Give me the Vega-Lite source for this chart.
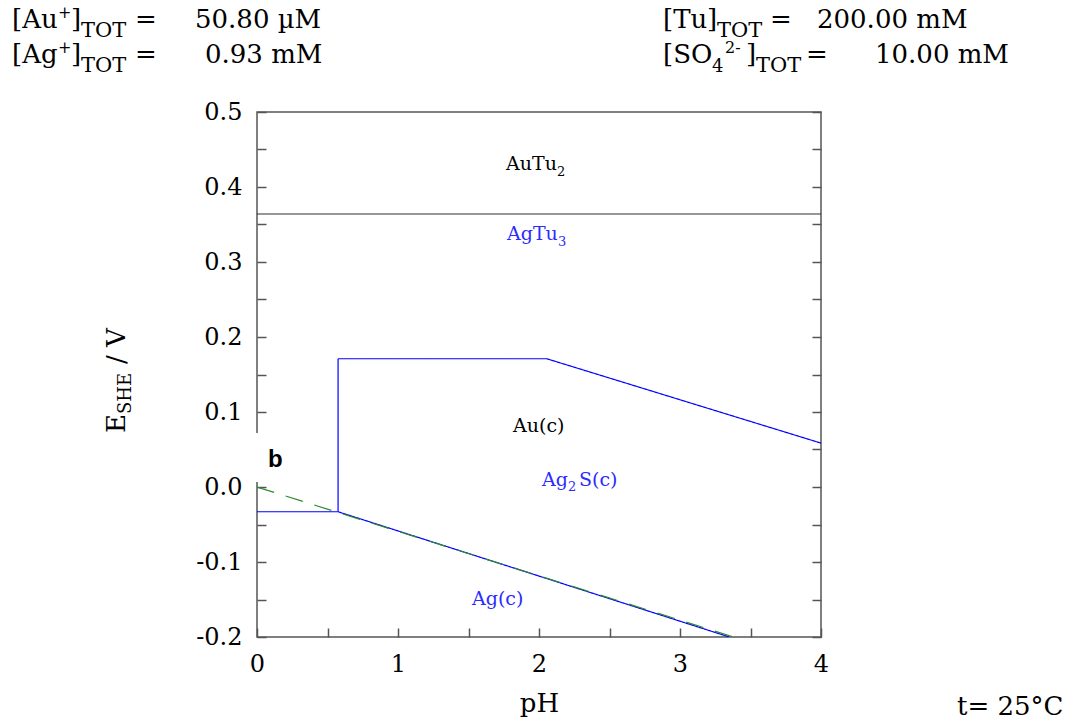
{
  "$schema": "https://vega.github.io/schema/vega-lite/v6.json",
  "width": 564,
  "height": 525,
  "autosize": {"type": "none"},
  "padding": {"left": 257, "top": 112, "right": 246, "bottom": 85},
  "background": "white",
  "config": {
    "view": {"stroke": "#555", "strokeWidth": 1.5},
    "text": {"font": "DejaVu Serif", "align": "left", "baseline": "alphabetic"},
    "axis": {
      "domain": false, "grid": false,
      "tickSize": -9, "tickColor": "#555", "tickWidth": 1.5,
      "labelFont": "DejaVu Serif", "labelFontSize": 24, "labelColor": "black",
      "labelOverlap": false, "labelFlush": false, "labelBound": false,
      "titleFont": "DejaVu Serif", "titleFontSize": 26, "titleFontWeight": "normal", "titleColor": "black"
    }
  },
  "datasets": {
    "lines": [
      {"s": "A", "o": 1, "pH": 0, "E": 0.364},
      {"s": "A", "o": 2, "pH": 4, "E": 0.364},
      {"s": "B", "o": 1, "pH": 0.575, "E": -0.033},
      {"s": "B", "o": 2, "pH": 0.575, "E": 0.171},
      {"s": "B", "o": 3, "pH": 2.055, "E": 0.171},
      {"s": "B", "o": 4, "pH": 4, "E": 0.0585},
      {"s": "C", "o": 1, "pH": 0, "E": -0.033},
      {"s": "C", "o": 2, "pH": 0.575, "E": -0.033},
      {"s": "C", "o": 3, "pH": 3.35, "E": -0.2},
      {"s": "D", "o": 1, "pH": 0, "E": 0},
      {"s": "D", "o": 2, "pH": 3.38, "E": -0.2}
    ]
  },
  "layer": [
    {
      "data": {"name": "lines"},
      "mark": {"type": "line", "strokeWidth": 1.2, "clip": true},
      "encoding": {
        "x": {"field": "pH", "type": "quantitative", "scale": {"domain": [0, 4], "nice": false, "zero": false},
              "axis": {"orient": "bottom", "values": [0, 0.5, 1, 1.5, 2, 2.5, 3, 3.5, 4], "labelExpr": "datum.value % 1 == 0 ? format(datum.value, 'd') : ''", "labelPadding": 24, "title": "pH", "titlePadding": 14}},
        "y": {"field": "E", "type": "quantitative", "scale": {"domain": [-0.2, 0.5], "nice": false, "zero": false},
              "axis": {"orient": "left", "values": [-0.2, -0.15, -0.1, -0.05, 0, 0.05, 0.1, 0.15, 0.2, 0.25, 0.3, 0.35, 0.4, 0.45, 0.5],
                       "labelExpr": "abs(datum.value*10 - round(datum.value*10)) < 0.001 ? (datum.value < -0.001 ? '-' : '') + format(abs(datum.value), '.1f') : ''",
                       "labelPadding": 24, "title": null}},
        "color": {"field": "s", "type": "nominal", "legend": null,
                  "scale": {"domain": ["A", "B", "C", "D"], "range": ["#303030", "#0000ff", "#0000ff", "#2e8b2e"]}},
        "strokeDash": {"field": "s", "type": "nominal", "legend": null,
                  "scale": {"domain": ["A", "B", "C", "D"], "range": [[1, 0], [1, 0], [1, 0], [18, 12]]}},
        "order": {"field": "o", "type": "quantitative"}
      }
    },
    {
      "data": {"values": [{"x1": -0.075, "x2": 0.27, "y1": 0.0067, "y2": 0.072}]},
      "mark": {"type": "rect", "fill": "white"},
      "encoding": {
        "x": {"field": "x1", "type": "quantitative", "scale": {"domain": [0, 4], "nice": false, "zero": false}, "axis": null},
        "x2": {"field": "x2"},
        "y": {"field": "y1", "type": "quantitative", "scale": {"domain": [-0.2, 0.5], "nice": false, "zero": false},
              "axis": {"orient": "right", "values": [-0.2, -0.15, -0.1, -0.05, 0, 0.05, 0.1, 0.15, 0.2, 0.25, 0.3, 0.35, 0.4, 0.45, 0.5], "labels": false, "title": null}},
        "y2": {"field": "y2"}
      }
    },
    {
      "data": {"values": [{"x": 0.078, "y": 0.0267, "t": "b"}]},
      "mark": {"type": "text", "font": "Liberation Sans", "fontWeight": "bold", "fontSize": 24, "color": "black"},
      "encoding": {
        "x": {"field": "x", "type": "quantitative", "scale": {"domain": [0, 4], "nice": false, "zero": false}, "axis": null},
        "y": {"field": "y", "type": "quantitative", "scale": {"domain": [-0.2, 0.5], "nice": false, "zero": false}, "axis": null},
        "text": {"field": "t"}
      }
    },
    {
      "data": {"values": [
        {"x": 1.766, "y": 0.4227, "t": "AuTu"},
        {"x": 1.816, "y": 0.0733, "t": "Au(c)"}
      ]},
      "mark": {"type": "text", "fontSize": 19, "color": "black"},
      "encoding": {
        "x": {"field": "x", "type": "quantitative", "scale": {"domain": [0, 4], "nice": false, "zero": false}, "axis": null},
        "y": {"field": "y", "type": "quantitative", "scale": {"domain": [-0.2, 0.5], "nice": false, "zero": false}, "axis": null},
        "text": {"field": "t"}
      }
    },
    {
      "data": {"values": [{"x": 2.128, "y": 0.4147, "t": "2"}]},
      "mark": {"type": "text", "fontSize": 13, "color": "black"},
      "encoding": {
        "x": {"field": "x", "type": "quantitative", "scale": {"domain": [0, 4], "nice": false, "zero": false}, "axis": null},
        "y": {"field": "y", "type": "quantitative", "scale": {"domain": [-0.2, 0.5], "nice": false, "zero": false}, "axis": null},
        "text": {"field": "t"}
      }
    },
    {
      "data": {"values": [
        {"x": 1.773, "y": 0.3293, "t": "AgTu"},
        {"x": 2.021, "y": 0.0013, "t": "Ag"},
        {"x": 2.284, "y": 0.0013, "t": "S(c)"},
        {"x": 1.525, "y": -0.1573, "t": "Ag(c)"}
      ]},
      "mark": {"type": "text", "fontSize": 19, "color": "#2b2bff"},
      "encoding": {
        "x": {"field": "x", "type": "quantitative", "scale": {"domain": [0, 4], "nice": false, "zero": false}, "axis": null},
        "y": {"field": "y", "type": "quantitative", "scale": {"domain": [-0.2, 0.5], "nice": false, "zero": false}, "axis": null},
        "text": {"field": "t"}
      }
    },
    {
      "data": {"values": [
        {"x": 2.135, "y": 0.3213, "t": "3"},
        {"x": 2.206, "y": -0.0053, "t": "2"}
      ]},
      "mark": {"type": "text", "fontSize": 13, "color": "#2b2bff"},
      "encoding": {
        "x": {"field": "x", "type": "quantitative", "scale": {"domain": [0, 4], "nice": false, "zero": false}, "axis": null},
        "y": {"field": "y", "type": "quantitative", "scale": {"domain": [-0.2, 0.5], "nice": false, "zero": false}, "axis": null},
        "text": {"field": "t"}
      }
    },
    {
      "data": {"values": [
        {"x": -1.7376, "y": 0.612, "t": "[Au"},
        {"x": -1.3191, "y": 0.612, "t": "]"},
        {"x": -0.8652, "y": 0.612, "t": "="},
        {"x": -0.4397, "y": 0.612, "t": "50.80 µM"},
        {"x": -1.7376, "y": 0.5653, "t": "[Ag"},
        {"x": -1.3191, "y": 0.5653, "t": "]"},
        {"x": -0.8652, "y": 0.5653, "t": "="},
        {"x": -0.3688, "y": 0.5653, "t": "0.93 mM"},
        {"x": 2.8794, "y": 0.612, "t": "[Tu"},
        {"x": 3.1915, "y": 0.612, "t": "]"},
        {"x": 3.6383, "y": 0.612, "t": "="},
        {"x": 3.9716, "y": 0.612, "t": "200.00 mM"},
        {"x": 2.8794, "y": 0.5653, "t": "[SO"},
        {"x": 3.4681, "y": 0.5653, "t": "]"},
        {"x": 3.8936, "y": 0.5653, "t": "="},
        {"x": 4.383, "y": 0.5653, "t": "10.00 mM"},
        {"x": 4.9645, "y": -0.304, "t": "t= 25°C"}
      ]},
      "mark": {"type": "text", "fontSize": 26, "color": "black"},
      "encoding": {
        "x": {"field": "x", "type": "quantitative", "scale": {"domain": [0, 4], "nice": false, "zero": false}, "axis": null},
        "y": {"field": "y", "type": "quantitative", "scale": {"domain": [-0.2, 0.5], "nice": false, "zero": false}, "axis": null},
        "text": {"field": "t"}
      }
    },
    {
      "data": {"values": [
        {"x": -1.2482, "y": 0.6, "t": "TOT"},
        {"x": -1.2482, "y": 0.5533, "t": "TOT"},
        {"x": 3.2624, "y": 0.6, "t": "TOT"},
        {"x": 3.539, "y": 0.5533, "t": "TOT"}
      ]},
      "mark": {"type": "text", "fontSize": 21, "color": "black"},
      "encoding": {
        "x": {"field": "x", "type": "quantitative", "scale": {"domain": [0, 4], "nice": false, "zero": false}, "axis": null},
        "y": {"field": "y", "type": "quantitative", "scale": {"domain": [-0.2, 0.5], "nice": false, "zero": false}, "axis": null},
        "text": {"field": "t"}
      }
    },
    {
      "data": {"values": [{"x": 3.227, "y": 0.5533, "t": "4"}]},
      "mark": {"type": "text", "fontSize": 18, "color": "black"},
      "encoding": {
        "x": {"field": "x", "type": "quantitative", "scale": {"domain": [0, 4], "nice": false, "zero": false}, "axis": null},
        "y": {"field": "y", "type": "quantitative", "scale": {"domain": [-0.2, 0.5], "nice": false, "zero": false}, "axis": null},
        "text": {"field": "t"}
      }
    },
    {
      "data": {"values": [
        {"x": -1.4113, "y": 0.6253, "t": "+"},
        {"x": -1.4113, "y": 0.5787, "t": "+"},
        {"x": 3.3191, "y": 0.5787, "t": "2-"}
      ]},
      "mark": {"type": "text", "fontSize": 16, "color": "black"},
      "encoding": {
        "x": {"field": "x", "type": "quantitative", "scale": {"domain": [0, 4], "nice": false, "zero": false}, "axis": null},
        "y": {"field": "y", "type": "quantitative", "scale": {"domain": [-0.2, 0.5], "nice": false, "zero": false}, "axis": null},
        "text": {"field": "t"}
      }
    },
    {
      "data": {"values": [
        {"x": -0.936, "y": 0.072, "t": "E"},
        {"x": -0.936, "y": 0.164, "t": "/ V"}
      ]},
      "mark": {"type": "text", "fontSize": 26, "color": "black", "angle": 270},
      "encoding": {
        "x": {"field": "x", "type": "quantitative", "scale": {"domain": [0, 4], "nice": false, "zero": false}, "axis": null},
        "y": {"field": "y", "type": "quantitative", "scale": {"domain": [-0.2, 0.5], "nice": false, "zero": false}, "axis": null},
        "text": {"field": "t"}
      }
    },
    {
      "data": {"values": [{"x": -0.8936, "y": 0.0973, "t": "SHE"}]},
      "mark": {"type": "text", "fontSize": 18, "color": "black", "angle": 270},
      "encoding": {
        "x": {"field": "x", "type": "quantitative", "scale": {"domain": [0, 4], "nice": false, "zero": false}, "axis": null},
        "y": {"field": "y", "type": "quantitative", "scale": {"domain": [-0.2, 0.5], "nice": false, "zero": false}, "axis": null},
        "text": {"field": "t"}
      }
    }
  ],
  "resolve": {"axis": {"x": "independent", "y": "independent"}}
}
